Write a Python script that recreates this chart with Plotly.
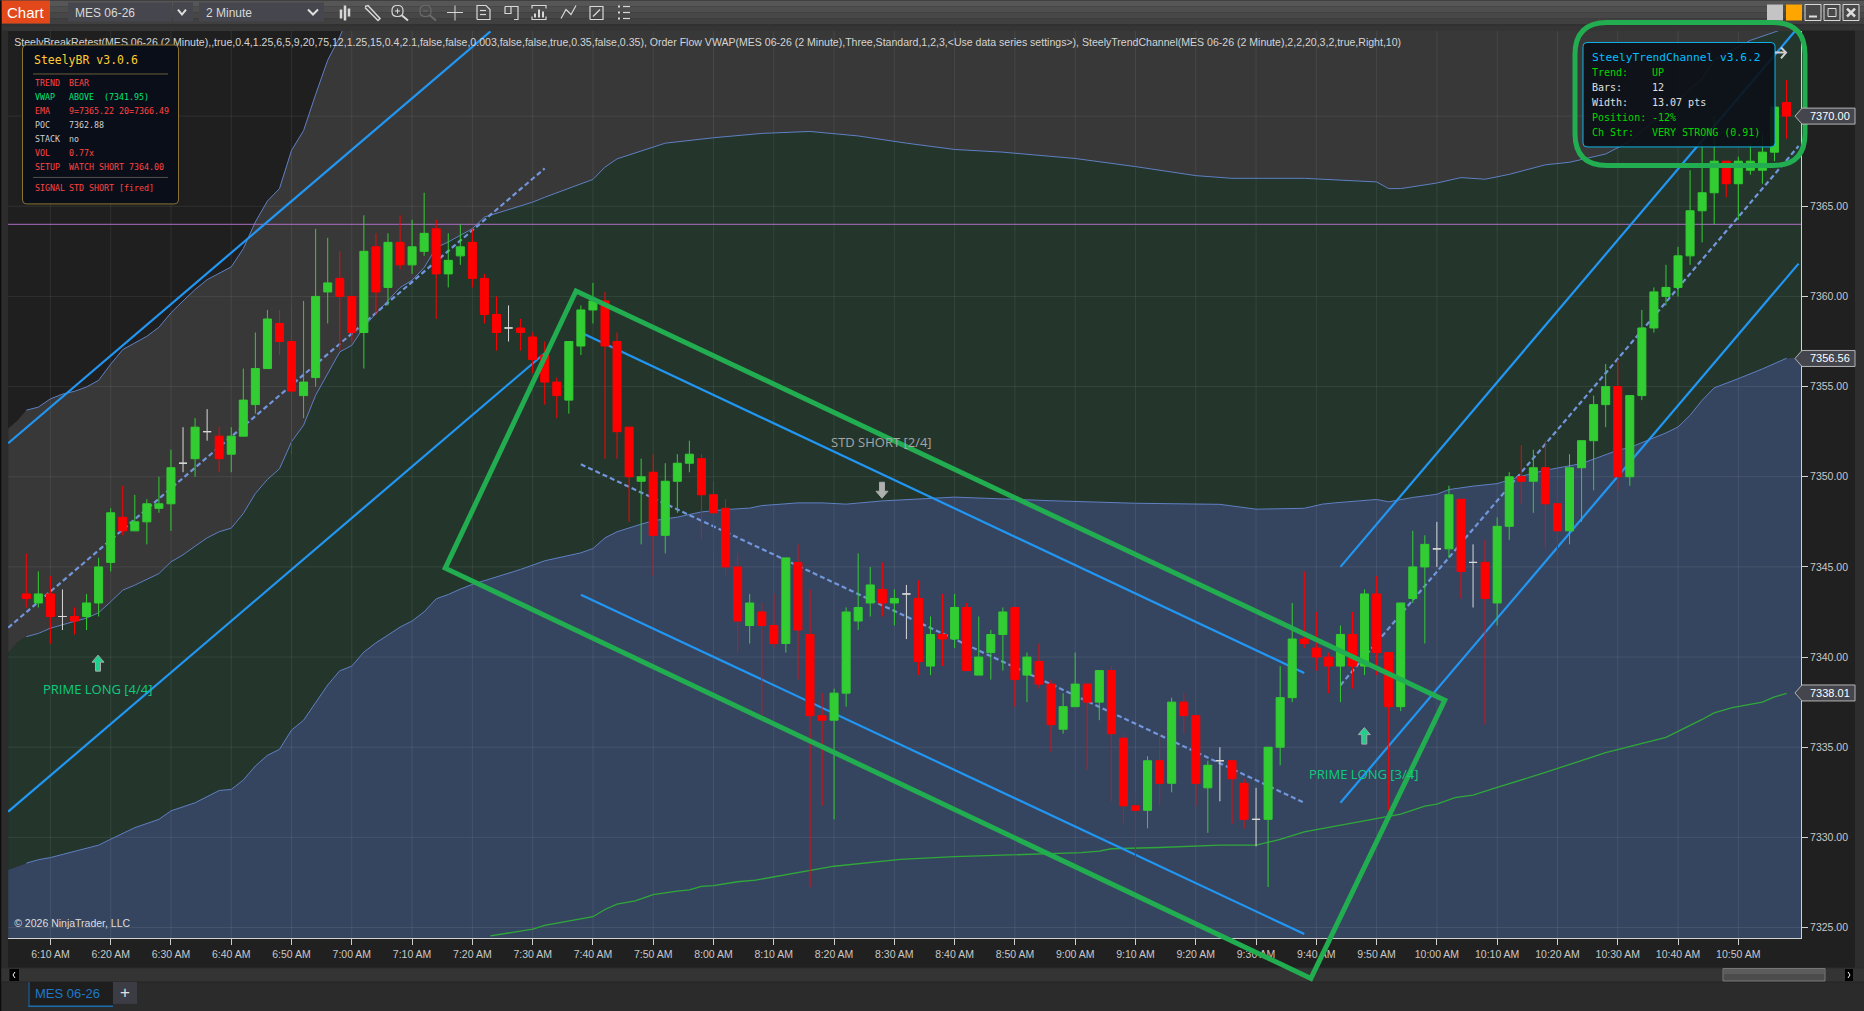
import pandas as pd
import plotly.graph_objects as go

DAY = "2026-05-01 "

# candles, one value per 2 minute bar starting 6:06 AM
opens = [
    7343.5, 7343.0, 7343.5, 7342.25, 7342.25, 7342.25, 7343.0, 7345.25, 7347.75, 7347.0,
    7347.5, 7348.25, 7348.5, 7350.75, 7351.0, 7352.5, 7352.25, 7351.25, 7352.25, 7354.0,
    7356.0, 7358.5, 7357.5, 7354.5, 7355.5, 7360.25, 7361.0, 7360.0, 7358.0, 7362.75,
    7360.5, 7363.0, 7361.75, 7362.5, 7363.75, 7361.25, 7362.25, 7363.0, 7361.0, 7359.0,
    7358.25, 7358.25, 7357.75, 7356.75, 7355.25, 7354.25, 7357.25, 7359.25, 7359.75, 7357.5,
    7352.75, 7349.75, 7350.25, 7346.75, 7349.75, 7350.75, 7351.0, 7349.0, 7348.25, 7345.0,
    7341.75, 7342.5, 7341.75, 7340.75, 7345.25, 7341.25, 7336.75, 7336.5, 7338.0, 7342.0,
    7343.0, 7343.75, 7343.0, 7343.5, 7343.25, 7339.5, 7341.25, 7341.0, 7342.75, 7339.0,
    7340.25, 7341.25, 7342.75, 7339.0, 7339.75, 7338.5, 7336.0, 7337.25, 7338.5, 7337.5,
    7339.25, 7335.5, 7331.75, 7331.5, 7334.25, 7333.0, 7337.5, 7336.75, 7332.75, 7334.25,
    7334.25, 7333.0, 7331.0, 7331.0, 7335.0, 7337.75, 7341.0, 7340.5, 7340.0, 7339.5,
    7341.25, 7339.5, 7343.5, 7340.25, 7337.25, 7343.25, 7345.0, 7346.0, 7346.0, 7348.75,
    7345.25, 7345.25, 7343.0, 7347.25, 7350.0, 7349.75, 7350.5, 7348.5, 7347.0, 7350.5,
    7352.0, 7354.0, 7355.0, 7350.0, 7354.5, 7358.25, 7360.0, 7360.5, 7362.25, 7364.75,
    7365.75, 7367.5, 7366.25, 7367.0, 7367.0, 7368.0, 7370.75,
]
highs = [
    7345.75, 7344.75, 7344.5, 7343.75, 7342.75, 7343.5, 7345.5, 7348.25, 7349.5, 7349.0,
    7348.75, 7350.0, 7351.5, 7352.75, 7353.25, 7353.75, 7352.75, 7352.75, 7356.0, 7358.0,
    7359.25, 7359.25, 7359.5, 7359.75, 7363.75, 7363.25, 7362.5, 7360.0, 7364.5, 7363.5,
    7363.5, 7364.5, 7364.25, 7365.75, 7364.25, 7363.5, 7364.0, 7363.75, 7361.25, 7360.0,
    7359.5, 7358.75, 7358.0, 7357.5, 7355.5, 7357.5, 7359.5, 7360.75, 7360.25, 7358.0,
    7352.75, 7351.0, 7351.25, 7350.75, 7351.25, 7352.0, 7351.25, 7349.75, 7348.75, 7345.75,
    7343.5, 7343.0, 7343.5, 7345.5, 7346.25, 7343.75, 7338.0, 7338.25, 7342.75, 7345.75,
    7345.0, 7345.25, 7343.75, 7344.0, 7344.25, 7342.25, 7343.5, 7343.5, 7343.0, 7342.25,
    7341.5, 7342.75, 7342.75, 7340.25, 7340.75, 7338.75, 7338.0, 7340.25, 7338.5, 7339.25,
    7339.5, 7335.75, 7332.5, 7334.5, 7335.75, 7337.75, 7338.0, 7336.75, 7334.25, 7335.0,
    7334.25, 7333.25, 7332.75, 7335.0, 7339.5, 7343.0, 7344.75, 7342.5, 7340.25, 7341.75,
    7342.5, 7343.75, 7344.5, 7340.25, 7343.0, 7347.0, 7346.75, 7347.5, 7349.5, 7348.75,
    7346.25, 7346.5, 7347.75, 7350.25, 7351.75, 7351.5, 7352.0, 7349.75, 7351.25, 7352.0,
    7354.5, 7356.25, 7356.5, 7354.5, 7359.25, 7360.5, 7361.75, 7362.75, 7367.0, 7368.5,
    7370.0, 7367.5, 7367.75, 7368.5, 7369.0, 7370.5, 7372.0,
]
lows = [
    7342.75, 7342.75, 7340.75, 7341.5, 7341.25, 7341.5, 7342.25, 7344.75, 7346.75, 7347.0,
    7346.25, 7348.0, 7347.0, 7350.25, 7350.0, 7352.0, 7350.25, 7350.25, 7352.25, 7353.5,
    7356.0, 7356.75, 7351.25, 7353.25, 7355.0, 7358.5, 7357.0, 7357.5, 7356.0, 7359.0,
    7359.5, 7361.5, 7361.25, 7362.25, 7358.75, 7360.5, 7361.75, 7360.5, 7358.5, 7357.0,
    7357.5, 7357.0, 7355.75, 7354.0, 7353.25, 7353.5, 7356.75, 7358.5, 7351.0, 7351.0,
    7347.5, 7346.25, 7344.5, 7345.75, 7348.0, 7350.25, 7346.5, 7345.75, 7344.5, 7340.25,
    7340.75, 7336.75, 7340.5, 7340.25, 7338.75, 7327.25, 7331.75, 7331.0, 7337.25, 7341.5,
    7342.25, 7342.25, 7341.75, 7341.0, 7339.0, 7339.0, 7339.5, 7340.5, 7339.25, 7339.0,
    7338.75, 7339.25, 7337.25, 7337.5, 7338.25, 7334.75, 7335.75, 7337.25, 7333.75, 7336.5,
    7332.0, 7330.75, 7328.5, 7330.5, 7331.75, 7332.5, 7335.75, 7331.75, 7330.25, 7332.0,
    7330.75, 7330.5, 7329.5, 7327.25, 7334.0, 7337.5, 7340.5, 7339.25, 7338.0, 7337.5,
    7338.25, 7339.0, 7339.0, 7331.5, 7337.0, 7343.0, 7340.75, 7345.0, 7345.5, 7343.25,
    7342.75, 7336.25, 7341.75, 7346.5, 7348.5, 7348.0, 7346.0, 7345.0, 7346.25, 7347.5,
    7349.25, 7352.75, 7349.25, 7349.5, 7354.25, 7358.0, 7359.5, 7360.0, 7361.75, 7363.0,
    7364.0, 7365.5, 7364.25, 7366.75, 7366.25, 7367.5, 7368.75,
]
closes = [
    7343.25, 7343.5, 7342.25, 7342.25, 7342.0, 7343.0, 7345.0, 7348.0, 7347.0, 7347.5,
    7348.5, 7348.5, 7350.5, 7350.75, 7352.75, 7352.5, 7351.0, 7352.25, 7354.25, 7356.0,
    7358.75, 7357.5, 7354.75, 7355.25, 7360.0, 7360.75, 7360.0, 7358.0, 7362.5, 7360.25,
    7363.0, 7361.75, 7362.75, 7363.5, 7361.25, 7362.0, 7362.75, 7361.0, 7359.0, 7358.0,
    7358.25, 7358.0, 7356.5, 7355.25, 7354.5, 7357.5, 7359.25, 7359.75, 7357.25, 7352.5,
    7350.0, 7350.0, 7346.75, 7349.75, 7350.75, 7351.25, 7349.0, 7348.0, 7345.0, 7342.0,
    7343.0, 7341.75, 7340.75, 7345.5, 7341.5, 7336.75, 7336.5, 7338.0, 7342.5, 7342.75,
    7344.0, 7343.0, 7343.25, 7343.5, 7339.75, 7341.25, 7341.0, 7342.75, 7339.25, 7340.0,
    7341.25, 7342.5, 7338.75, 7340.0, 7338.5, 7336.25, 7337.25, 7338.5, 7337.5, 7339.25,
    7335.75, 7331.75, 7331.5, 7334.25, 7333.0, 7337.5, 7336.75, 7333.0, 7334.0, 7334.25,
    7333.25, 7331.0, 7331.0, 7335.0, 7337.75, 7341.0, 7340.75, 7340.0, 7339.5, 7341.25,
    7339.5, 7343.5, 7340.25, 7337.25, 7343.0, 7345.0, 7346.25, 7346.0, 7349.0, 7344.75,
    7345.25, 7343.25, 7347.25, 7350.0, 7349.75, 7350.5, 7348.5, 7347.0, 7350.5, 7352.0,
    7354.0, 7355.0, 7350.0, 7354.5, 7358.25, 7360.25, 7360.5, 7362.25, 7364.75, 7365.75,
    7367.5, 7366.25, 7367.5, 7367.5, 7368.0, 7370.5, 7370.0,
]

# vwap bands
band1_times = ["06:06", "06:08", "06:10", "06:12", "06:14", "06:16", "06:18", "06:20", "06:22", "06:24", "06:26",
               "06:28", "06:30", "06:32", "06:34", "06:36", "06:38", "06:40", "06:42", "06:44", "06:46", "06:48",
               "06:50", "06:52", "06:54", "06:56", "06:58", "07:00", "07:04"]
band1_vals = [7353.69, 7353.86, 7354.32, 7354.58, 7354.74, 7354.98, 7355.35, 7356.24, 7357.05, 7357.44, 7357.79,
              7358.29, 7359.09, 7359.75, 7360.38, 7360.93, 7361.28, 7361.64, 7362.65, 7364.13, 7365.29, 7365.98,
              7368.1, 7369.2, 7371.2, 7373.1, 7374.4, 7376.0, 7378.0]
band2_times = ["06:06", "06:08", "06:10", "06:12", "06:14", "06:16", "06:18", "06:20", "06:22", "06:24", "06:26",
               "06:28", "06:30", "06:32", "06:34", "06:36", "06:38", "06:40", "06:42", "06:44", "06:46", "06:48",
               "06:50", "06:52", "06:54", "06:56", "06:58", "07:00", "07:02", "07:04", "07:06", "07:08", "07:10",
               "07:12", "07:14", "07:16", "07:18", "07:20", "07:22", "07:24", "07:30", "07:32", "07:40", "07:42",
               "07:44", "07:52", "08:00", "08:08", "08:16", "08:24", "08:32", "08:40", "08:48", "09:00", "09:10",
               "09:20", "09:26", "09:38", "09:50", "09:52", "09:54", "10:00", "10:04", "10:08", "10:12", "10:18",
               "10:22", "10:28", "10:32", "10:38", "10:44", "10:46", "10:52", "10:56", "10:58"]
band2_vals = [7341.13, 7341.31, 7341.6, 7341.81, 7341.98, 7342.16, 7342.46, 7343.07, 7343.71, 7343.99, 7344.3,
              7344.63, 7345.28, 7345.67, 7346.15, 7346.61, 7346.95, 7347.15, 7347.96, 7349.07, 7349.85, 7350.44,
              7351.94, 7352.86, 7354.52, 7355.72, 7356.92, 7357.29, 7358.31, 7359.05, 7359.79, 7360.49, 7360.9,
              7361.6, 7362.71, 7363.02, 7363.39, 7363.76, 7364.4, 7364.6, 7365.23, 7365.5, 7366.49, 7367.17,
              7367.63, 7368.5, 7368.8, 7369.04, 7369.15, 7368.9, 7368.5, 7368.15, 7368.0, 7367.65, 7367.2,
              7366.7, 7366.55, 7366.55, 7366.35, 7365.98, 7365.98, 7366.29, 7366.59, 7366.5, 7366.77, 7367.3,
              7367.44, 7367.9, 7368.6, 7370.3, 7372.07, 7373.1, 7374.2, 7374.66, 7374.9]
band3_times = ["06:06", "06:08", "06:10", "06:14", "06:18", "06:20", "06:24", "06:28", "06:30", "06:34", "06:38",
               "06:40", "06:42", "06:44", "06:46", "06:48", "06:50", "06:52", "06:54", "06:56", "06:58", "07:00",
               "07:02", "07:04", "07:06", "07:08", "07:10", "07:12", "07:14", "07:16", "07:18", "07:20", "07:28",
               "07:32", "07:38", "07:40", "07:42", "07:44", "07:48", "07:50", "07:54", "07:58", "08:02", "08:06",
               "08:08", "08:14", "08:18", "08:22", "08:28", "08:32", "08:40", "08:56", "09:10", "09:24", "09:30",
               "09:38", "09:41", "09:43", "09:50", "09:52", "09:56", "10:00", "10:02", "10:06", "10:10", "10:14",
               "10:18", "10:24", "10:30", "10:32", "10:36", "10:38", "10:40", "10:42", "10:44", "10:46", "10:50",
               "10:54", "10:58"]
band3_vals = [7328.57, 7328.76, 7328.88, 7329.22, 7329.57, 7329.9, 7330.54, 7331.0, 7331.47, 7331.92, 7332.6,
              7332.66, 7333.18, 7333.96, 7334.55, 7334.88, 7335.95, 7336.5, 7337.47, 7338.45, 7339.24, 7339.5,
              7340.28, 7340.79, 7341.22, 7341.66, 7342.0, 7342.51, 7343.23, 7343.47, 7343.77, 7344.03, 7344.86,
              7345.34, 7345.78, 7346.02, 7346.61, 7346.95, 7347.37, 7347.56, 7347.76, 7348.05, 7348.18, 7348.26,
              7348.4, 7348.55, 7348.55, 7348.48, 7348.66, 7348.74, 7348.87, 7348.67, 7348.53, 7348.47, 7348.2,
              7348.25, 7348.48, 7348.55, 7348.74, 7348.61, 7348.85, 7349.03, 7349.29, 7349.48, 7349.62, 7350.03,
              7350.36, 7350.73, 7351.47, 7351.62, 7352.17, 7352.43, 7352.76, 7353.41, 7354.24, 7354.93, 7355.44,
              7355.98, 7356.57]
vwap_times = ["07:23", "07:30", "07:32", "07:40", "07:42", "07:44", "07:47", "07:50", "07:54", "07:56", "07:58",
              "08:00", "08:04", "08:07", "08:20", "08:31", "08:40", "08:50", "08:56", "09:01", "09:04", "09:06",
              "09:14", "09:24", "09:30", "09:34", "09:38", "09:44", "09:49", "09:54", "09:58", "10:00", "10:03",
              "10:06", "10:10", "10:18", "10:28", "10:38", "10:44", "10:46", "10:49", "10:54", "10:56", "10:58"]
vwap_vals = [7324.54, 7324.91, 7325.12, 7325.6, 7326.0, 7326.3, 7326.48, 7326.82, 7327.02, 7327.09, 7327.28,
             7327.32, 7327.54, 7327.63, 7328.4, 7328.78, 7328.93, 7329.02, 7329.07, 7329.15, 7329.24, 7329.37,
             7329.44, 7329.57, 7329.57, 7329.89, 7330.31, 7330.68, 7331.0, 7331.29, 7331.73, 7331.84, 7332.21,
             7332.34, 7332.77, 7333.6, 7334.7, 7335.55, 7336.54, 7336.9, 7337.2, 7337.5, 7337.79, 7337.98]

# trend channels: start and end of each line
chan1_times = ["06:03", "07:23"]
chan1_upper = [7351.86, 7374.7]
chan1_mid_times = ["06:03", "07:32"]
chan1_mid = [7341.63, 7367.1]
chan1_lower_times = ["06:03", "07:32"]
chan1_lower = [7331.43, 7356.85]
chan2_times = ["07:38", "09:38"]
chan2_upper = [7358.0, 7339.12]
chan2_mid = [7350.69, 7331.92]
chan2_lower = [7343.46, 7324.64]
chan3_times = ["09:44", "11:00"]
chan3_upper = [7345.0, 7374.95]
chan3_mid = [7338.44, 7368.34]
chan3_lower = [7331.92, 7361.82]
poc_price = 7364.0

# hand drawn box
box_times = ["07:37:12", "07:15:30", "09:39:06", "10:01:18", "07:37:12"]
box_prices = [7360.3, 7344.93, 7322.18, 7337.61, 7360.3]

tick_labels = ["6:10 AM", "6:20 AM", "6:30 AM", "6:40 AM", "6:50 AM", "7:00 AM", "7:10 AM", "7:20 AM", "7:30 AM",
               "7:40 AM", "7:50 AM", "8:00 AM", "8:10 AM", "8:20 AM", "8:30 AM", "8:40 AM", "8:50 AM", "9:00 AM",
               "9:10 AM", "9:20 AM", "9:30 AM", "9:40 AM", "9:50 AM", "10:00 AM", "10:10 AM", "10:20 AM",
               "10:30 AM", "10:40 AM", "10:50 AM"]
price_ticks = [7325, 7330, 7335, 7340, 7345, 7350, 7355, 7360, 7365, 7370]
flag_prices = [7370.00, 7356.56, 7338.01]

# plot box in page pixels
L, R, T, B = 8, 1801, 30.5, 938
X_START, X_END = DAY + "06:02:58", DAY + "11:00:24"
Y_MIN, Y_MAX = 7324.42, 7374.72
SANS = "Liberation Sans"
MONO = "DejaVu Sans Mono"
GREEN = "#32cd32"
RED = "#ff0000"
BOX_GREEN = "#22ad50"


def stamp(times):
    return [DAY + t for t in times]


def xp(px):
    return (px - L) / (R - L)


def yp(py):
    return (B - py) / (B - T)


def time_to_px(t):
    span = pd.Timestamp(X_END) - pd.Timestamp(X_START)
    return L + (pd.Timestamp(t) - pd.Timestamp(X_START)) / span * (R - L)


def price_to_py(v):
    return B - (v - Y_MIN) / (Y_MAX - Y_MIN) * (B - T)


shapes = []
annotations = []


def rect(x0, y0, x1, y1, fill, line=None, layer="below", width=1):
    shapes.append(dict(type="rect", xref="paper", yref="paper", x0=xp(x0), x1=xp(x1), y0=yp(y1), y1=yp(y0),
                       fillcolor=fill, line=dict(color=line or fill, width=width if line else 0), layer=layer))


def poly(points, color, width=1.2, fill=None, close=False, layer="above"):
    d = "M " + " L ".join(f"{xp(x):.5f},{yp(y):.5f}" for x, y in points) + (" Z" if close else "")
    shapes.append(dict(type="path", xref="paper", yref="paper", path=d, layer=layer,
                       line=dict(color=color, width=width), fillcolor=fill or "rgba(0,0,0,0)"))


def rrect(x0, y0, x1, y1, r, color, width, fill="rgba(0,0,0,0)"):
    def c(x, y):
        return f"{xp(x):.5f},{yp(y):.5f}"
    d = (f"M {c(x0 + r, y0)} L {c(x1 - r, y0)} Q {c(x1, y0)} {c(x1, y0 + r)} L {c(x1, y1 - r)} "
         f"Q {c(x1, y1)} {c(x1 - r, y1)} L {c(x0 + r, y1)} Q {c(x0, y1)} {c(x0, y1 - r)} "
         f"L {c(x0, y0 + r)} Q {c(x0, y0)} {c(x0 + r, y0)} Z")
    shapes.append(dict(type="path", xref="paper", yref="paper", path=d, layer="above",
                       line=dict(color=color, width=width), fillcolor=fill))


def label(x, y, text, color, size, family=MONO, anchor="left"):
    annotations.append(dict(xref="paper", yref="paper", x=xp(x), y=yp(y), text=text, showarrow=False,
                            xanchor=anchor, yanchor="middle", align="left", borderpad=0,
                            font=dict(color=color, size=size, family=family)))


def arrow(cx, y0, y1, fill):
    # y0 is the tip of the arrow
    d = 1 if y1 > y0 else -1
    poly([(cx, y0), (cx + 6, y0 + 7 * d), (cx + 2.5, y0 + 7 * d), (cx + 2.5, y1), (cx - 2.5, y1),
          (cx - 2.5, y0 + 7 * d), (cx - 6, y0 + 7 * d)], "#a8a8a8", width=1, fill=fill, close=True)


# window frame
rect(0, 0, 1864, 6, "#565656")
rect(0, 6, 1864, 12, "#4e4e4e")
rect(0, 12, 1864, 18, "#474747")
rect(0, 18, 1864, 24, "#404040")
rect(0, 24, 1864, 30.5, "#353535")
rect(0, 24, 1864, 25, "#2e2e2e")
rect(0, 0, 1.5, 1011, "#0c0c0c")
rect(1.5, 30, 8, 982, "#2c2c2c")
rect(R, 30, 1855, 968, "#202020")
rect(1855, 30, 1864, 982, "#2e2e2e")
rect(8, B, 1855, 968, "#202020")
rect(1.5, 968, 1864, 982, "#343434")
rect(1.5, 967.5, 1864, 968.5, "#2a2a2a")
rect(1.5, 982, 1864, 1011, "#2b2b2b")
rect(1.5, 981.5, 1864, 982.5, "#242424")

# toolbar
rect(2, 0, 50, 23, "#e2481a", layer="above")
label(26, 12, "Chart", "#ffffff", 15, SANS, "center")
rect(68, 2, 172, 21, "#46464e", layer="above")
rect(173, 2, 193, 21, "#46464e", layer="above")
rect(199, 2, 324, 21, "#46464e", layer="above")
label(74, 12, "MES 06-26", "#d8d8d8", 12, SANS)
label(205, 12, "2 Minute", "#d8d8d8", 12, SANS)
poly([(178, 9), (182, 14), (186, 9)], "#e0e0e0", width=2)
poly([(308, 9), (313, 14), (318, 9)], "#e0e0e0", width=2)
ICON = "#d8d8d8"
for cx, h0, h1 in [(341, 9, 18), (345, 5, 20), (349, 8, 16)]:
    poly([(cx, h0), (cx, h1)], ICON, width=2.5)
poly([(365, 6), (368, 5), (380, 18), (378, 20), (365, 7)], ICON, width=1.5)
for cx, col in [(398, ICON), (426, "#6a6a6a")]:
    rrect(cx - 6, 5, cx + 5, 16, 5, col, 1.2)
    poly([(cx + 4, 15), (cx + 10, 20)], col, width=2)
    poly([(cx - 3, 10.5), (cx + 2, 10.5)], col, width=1)
poly([(398 - .5, 8), (398 - .5, 13)], ICON, width=1)
poly([(447, 12), (463, 12)], ICON, width=1)
poly([(455, 5), (455, 20)], ICON, width=1)
poly([(477, 19), (477, 5), (486, 5), (490, 9), (490, 19), (477, 19)], ICON)
poly([(480, 10), (486, 10)], ICON)
poly([(480, 14), (486, 14)], ICON)
poly([(505, 6), (518, 6), (518, 19), (514, 19)], ICON)
poly([(505, 6), (505, 13), (511, 13), (511, 6)], ICON)
poly([(532, 8), (532, 5), (546, 5), (546, 8)], ICON)
poly([(532, 16), (532, 19), (546, 19), (546, 16)], ICON)
for cx, h0 in [(535, 13), (539, 9), (543, 11)]:
    poly([(cx, h0), (cx, 17)], ICON, width=2)
poly([(561, 18), (566, 9), (571, 14), (576, 5)], ICON)
poly([(590, 19), (590, 6), (603, 6), (603, 19), (590, 19)], ICON)
poly([(593, 16), (600, 9)], ICON)
for yy in [6, 12, 18]:
    poly([(618, yy), (620, yy)], ICON, width=2)
    poly([(623, yy), (630, yy)], ICON)

# window buttons
rect(1767, 4, 1783, 20, "#c4c4c4", layer="above")
rect(1786, 4, 1802, 20, "#ffa500", layer="above")
for x0 in [1805, 1824, 1843]:
    rect(x0, 4, x0 + 16, 20, "#484848", "#d8d8d8", layer="above")
poly([(1809, 16), (1817, 16)], "#dddddd", width=2)
rect(1828, 8, 1836, 16, "rgba(0,0,0,0)", "#dddddd", layer="above")
poly([(1847, 8), (1855, 16)], "#dddddd", width=2.5)
poly([(1855, 8), (1847, 16)], "#dddddd", width=2.5)

# scrollbar and tab row
rect(9.5, 969, 19, 981, "#000000")
rect(1845, 969, 1853, 981, "#000000")
poly([(15, 972), (13, 975), (15, 978)], "#ffffff", width=1)
poly([(1848, 972), (1850, 975), (1848, 978)], "#ffffff", width=1)
rect(1723, 968.5, 1825, 981, "#4c4c4c", "#7a7a7a")
rect(1724, 969, 1824, 974, "#5c5c5c")
rect(28.5, 982, 113, 1006, "#1e1e1e")
rect(28.5, 1005.5, 113, 1007, "#1a6cb0")
rect(28.5, 982, 29.5, 1007, "#1a6cb0")
rect(113, 982, 137, 1004, "#3c3c44")
label(67, 994, "MES 06-26", "#1f78c8", 13, SANS, "center")
label(125, 993, "+", "#e0e0e0", 17, SANS, "center")

data = []
bar_times = pd.date_range(DAY + "06:06", periods=len(closes), freq="2min")
df = pd.DataFrame({"t": bar_times, "o": opens, "h": highs, "l": lows, "c": closes})

# band fills, stacked top to bottom, with the small rounded start at the left edge
data.append(go.Scatter(x=stamp(["06:03", "06:04:30"] + band1_times + ["11:01"]),
                       y=[7352.68, 7353.1] + band1_vals + [7378.0],
                       mode="lines", line=dict(width=0), hoverinfo="skip"))
data.append(go.Scatter(x=stamp(["06:03", "06:04:30"] + band2_times + ["11:01"]),
                       y=[7340.2, 7340.8] + band2_vals + [7374.9],
                       mode="lines", line=dict(width=0), fill="tonexty", fillcolor="#383838", hoverinfo="skip"))
data.append(go.Scatter(x=stamp(["06:03"] + band3_times + ["11:01"]),
                       y=[7328.2] + band3_vals + [7356.6],
                       mode="lines", line=dict(width=0), fill="tonexty", fillcolor="#24362c", hoverinfo="skip"))
data.append(go.Scatter(x=stamp(["06:03", "11:01"]), y=[7320, 7320],
                       mode="lines", line=dict(width=0), fill="tonexty", fillcolor="#36455f", hoverinfo="skip"))

# grid goes over the fills
tick_times = [pd.to_datetime(DAY + s, format="%Y-%m-%d %I:%M %p") for s in tick_labels]
gx, gy = [], []
for t in tick_times:
    gx += [t, t, None]
    gy += [Y_MIN, Y_MAX, None]
for v in price_ticks:
    gx += [X_START, X_END, None]
    gy += [v, v, None]
data.append(go.Scatter(x=gx, y=gy, mode="lines", line=dict(color="rgba(255,255,255,0.075)", width=1),
                       hoverinfo="skip"))

for tt, vv in [(band1_times, band1_vals), (band2_times, band2_vals), (band3_times, band3_vals)]:
    data.append(go.Scatter(x=stamp(tt), y=vv, mode="lines", line=dict(color="#5f80c4", width=1), hoverinfo="skip"))
data.append(go.Scatter(x=stamp(vwap_times), y=vwap_vals, mode="lines", line=dict(color="#2fa83a", width=1.3),
                       hoverinfo="skip"))
data.append(go.Scatter(x=[X_START, X_END], y=[poc_price, poc_price], mode="lines",
                       line=dict(color="#ac6fc4", width=1), hoverinfo="skip"))

BLUE = dict(color="#2196f3", width=2.2)
DASH = dict(color="#7196dc", width=2.2, dash="5px,3px")
for tt, vv, st in [(chan1_times, chan1_upper, BLUE), (chan1_lower_times, chan1_lower, BLUE),
                   (chan1_mid_times, chan1_mid, DASH), (chan2_times, chan2_upper, BLUE),
                   (chan2_times, chan2_lower, BLUE), (chan2_times, chan2_mid, DASH),
                   (chan3_times, chan3_upper, BLUE), (chan3_times, chan3_lower, BLUE), (chan3_times, chan3_mid, DASH)]:
    data.append(go.Scatter(x=stamp(tt), y=vv, mode="lines", line=st, hoverinfo="skip"))

data.append(go.Scatter(
    x=[DAY + "06:04"], y=[7374.03], mode="text", textposition="middle right", cliponaxis=False, hoverinfo="skip",
    text=["SteelyBreakRetest(MES 06-26 (2 Minute),,true,0.4,1.25,6,5,9,20,75,12,1.25,15,0.4,2.1,false,false,0.003,"
          "false,false,true,0.35,false,0.35), Order Flow VWAP(MES 06-26 (2 Minute),Three,Standard,1,2,3,"
          "&lt;Use data series settings&gt;), SteelyTrendChannel(MES 06-26 (2 Minute),2,2,20,3,2,true,Right,10)"],
    textfont=dict(family=SANS, size=10.56, color="#d4d4d4")))
data.append(go.Scatter(x=[DAY + "06:04"], y=[7325.17], mode="text", textposition="middle right", hoverinfo="skip",
                       text=["© 2026 NinjaTrader, LLC"], textfont=dict(family=SANS, size=10.5, color="#dddddd")))

# candles sit in an overlaid subplot so they draw above the scatter layers
for part, col in [(df[df.c > df.o], GREEN), (df[df.c < df.o], RED), (df[df.c == df.o], "#d8d8d8")]:
    data.append(go.Candlestick(x=part.t, open=part.o, high=part.h, low=part.l, close=part.c,
                               xaxis="x2", yaxis="y2", whiskerwidth=0, hoverinfo="skip",
                               increasing=dict(line=dict(color=col, width=1), fillcolor=col),
                               decreasing=dict(line=dict(color=col, width=1), fillcolor=col)))

# signal labels
PRIME = "#0ecb7d"
arrow(98, 655, 671, "#1fd08c")
label(42, 689, "PRIME LONG [4/4]", PRIME, 13, "Open Sans")
arrow(1364.3, 727.5, 744, "#1fd08c")
label(1308, 774, "PRIME LONG [3/4]", PRIME, 13, "Open Sans")
arrow(882, 498, 482, "#b0b0b0")
label(830, 442, "STD SHORT [2/4]", "#a6a6a6", 13, "Open Sans")

# SteelyBR panel
rrect(22.5, 44.5, 178.5, 203.5, 4, "#8a7430", 1, "rgba(10,14,24,0.98)")
label(33, 60, "SteelyBR v3.0.6", "#ffcc33", 11.5)
poly([(33, 73.5), (168, 73.5)], "#6b5f3a", width=1)
poly([(33, 177), (168, 177)], "#55534c", width=1)
BR_RED = "#ff4444"
BR_GREEN = "#00e676"
BR_GREY = "#cfcfcf"
br_rows = [(83, "TREND", "BEAR", BR_RED), (97, "VWAP", "ABOVE\u00a0\u00a0(7341.95)", BR_GREEN),
           (111, "EMA", "9=7365.22 20=7366.49", BR_RED), (125, "POC", "7362.88", BR_GREY),
           (139, "STACK", "no", BR_GREY), (153, "VOL", "0.77x", BR_RED),
           (167, "SETUP", "WATCH SHORT 7364.00", BR_RED), (188, "SIGNAL", "STD SHORT [fired]", BR_RED)]
for yy, key, val, col in br_rows:
    label(33.5, yy, key, col, 8.3)
    label(68, yy, val, col, 8.3)

# SteelyTrendChannel panel and the box around it
rrect(1583, 42, 1775, 146.5, 4, "#0fb4e6", 1, "rgba(11,15,22,0.9)")
label(1591, 57, "SteelyTrendChannel v3.6.2", "#00bfff", 11.2)
TC_GREEN = "#00d800"
tc_rows = [(72, "Trend:", "UP", TC_GREEN), (87, "Bars:", "12", "#e0e0e0"), (102, "Width:", "13.07 pts", "#e0e0e0"),
           (117, "Position:", "-12%", TC_GREEN), (132, "Ch Str:", "VERY STRONG (0.91)", TC_GREEN)]
for yy, key, val, col in tc_rows:
    label(1591, yy, key, col if key != "Bars:" and key != "Width:" else "#e0e0e0", 10)
    label(1651, yy, val, col, 10)
poly([(1775, 52), (1786, 52)], "#cfcfcf", width=2)
poly([(1781, 47), (1786, 52), (1781, 58)], "#cfcfcf", width=2)
rrect(1575, 22, 1805, 165, 32, BOX_GREEN, 5)

# the hand drawn box around the down channel
poly([(time_to_px(DAY + t), price_to_py(v)) for t, v in zip(box_times, box_prices)], BOX_GREEN, width=5, close=True)

# price flags on the axis
for v in flag_prices:
    yc = price_to_py(v)
    poly([(1795, yc), (1802, yc - 8), (1855, yc - 8), (1855, yc + 8), (1802, yc + 8)], "#b4b4b4",
         width=1, fill="#45454d", close=True)
    label(1830, yc, f"{v:.2f}", "#ffffff", 11, SANS, "center")

axis_font = dict(family=SANS, size=10.5, color="#c8c8c8")
layout = go.Layout(
    width=1864, height=1011, margin=dict(l=L, r=1864 - R, t=T, b=1011 - B, pad=0),
    paper_bgcolor="#2b2b2b", plot_bgcolor="#1f1f1f", showlegend=False, hovermode=False,
    boxgap=0.05, shapes=shapes, annotations=annotations,
    xaxis=dict(type="date", range=[X_START, X_END], tickvals=tick_times, ticktext=tick_labels, showgrid=False,
               ticks="outside", ticklen=6, tickcolor="#d0d0d0", showline=True, linecolor="#d0d0d0", linewidth=1,
               tickfont=axis_font, zeroline=False, fixedrange=True, tickangle=0),
    yaxis=dict(side="right", range=[Y_MIN, Y_MAX], tickvals=price_ticks, tickformat=".2f", showgrid=False,
               ticks="outside", ticklen=6, tickcolor="#d0d0d0", showline=True, linecolor="#d0d0d0", linewidth=1,
               tickfont=axis_font, zeroline=False, fixedrange=True),
    xaxis2=dict(type="date", range=[X_START, X_END], overlaying="x", visible=False, rangeslider=dict(visible=False)),
    yaxis2=dict(range=[Y_MIN, Y_MAX], overlaying="y", visible=False),
)
fig = go.Figure(data=data, layout=layout)
fig.write_html("out.html", config=dict(displayModeBar=False), post_script="document.body.style.margin='0';")
